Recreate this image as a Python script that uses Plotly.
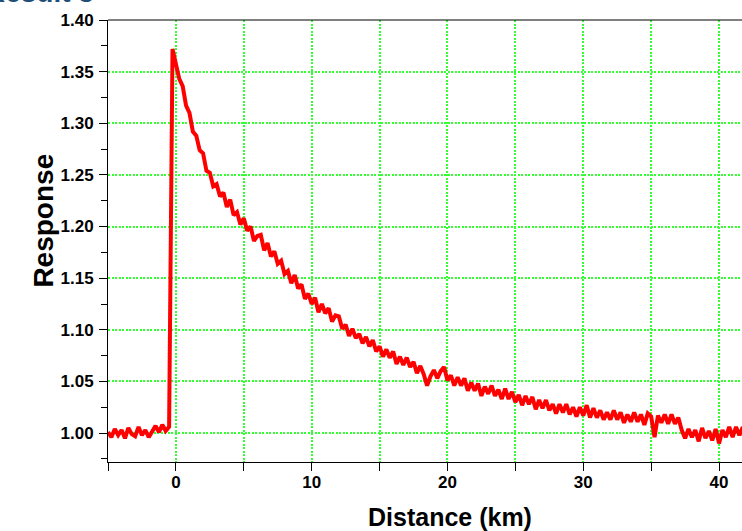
import plotly.graph_objects as go

# Sampling of the trace (km)
distance_start_km = -5.0
distance_step_km = 0.25

# Response values, one row per km (x = k, k+.25, k+.5, k+.75)
response_rows = [
    [1.001, 0.996, 1.004, 0.998],  # -5
    [1.003, 0.995, 1.005, 0.999],  # -4
    [0.997, 1.006, 0.998, 1.003],  # -3
    [0.996, 1.002, 1.007, 1.001],  # -2
    [1.008, 1.002, 1.006, 1.372],  # -1
    [1.359, 1.343, 1.336, 1.317],  # 0
    [1.310, 1.292, 1.288, 1.274],  # 1
    [1.271, 1.254, 1.252, 1.239],  # 2
    [1.241, 1.229, 1.233, 1.219],  # 3
    [1.226, 1.211, 1.214, 1.202],  # 4
    [1.208, 1.196, 1.200, 1.186],  # 5
    [1.191, 1.192, 1.177, 1.184],  # 6
    [1.171, 1.176, 1.164, 1.167],  # 7
    [1.154, 1.157, 1.145, 1.153],  # 8
    [1.140, 1.144, 1.130, 1.135],  # 9
    [1.125, 1.131, 1.117, 1.125],  # 10
    [1.116, 1.121, 1.108, 1.114],  # 11
    [1.113, 1.101, 1.105, 1.094],  # 12
    [1.101, 1.092, 1.096, 1.087],  # 13
    [1.093, 1.084, 1.090, 1.079],  # 14
    [1.084, 1.074, 1.081, 1.073],  # 15
    [1.079, 1.067, 1.074, 1.066],  # 16
    [1.073, 1.064, 1.069, 1.058],  # 17
    [1.065, 1.057, 1.046, 1.055],  # 18
    [1.061, 1.053, 1.060, 1.064],  # 19
    [1.051, 1.056, 1.046, 1.054],  # 20
    [1.046, 1.053, 1.041, 1.049],  # 21
    [1.041, 1.048, 1.036, 1.045],  # 22
    [1.038, 1.046, 1.036, 1.042],  # 23
    [1.033, 1.043, 1.033, 1.040],  # 24
    [1.030, 1.037, 1.027, 1.036],  # 25
    [1.028, 1.035, 1.023, 1.032],  # 26
    [1.024, 1.032, 1.022, 1.028],  # 27
    [1.019, 1.028, 1.020, 1.028],  # 28
    [1.018, 1.025, 1.016, 1.025],  # 29
    [1.017, 1.027, 1.015, 1.024],  # 30
    [1.015, 1.022, 1.013, 1.020],  # 31
    [1.013, 1.022, 1.013, 1.020],  # 32
    [1.010, 1.018, 1.011, 1.020],  # 33
    [1.011, 1.018, 1.008, 1.019],  # 34
    [1.016, 0.996, 1.017, 1.010],  # 35
    [1.018, 1.009, 1.018, 1.009],  # 36
    [1.015, 1.003, 0.995, 1.004],  # 37
    [0.996, 1.003, 0.992, 1.005],  # 38
    [0.995, 1.002, 0.993, 1.004],  # 39
    [0.990, 1.003, 0.996, 1.006],  # 40
    [0.996, 1.006, 0.998, 1.006],  # 41
]
response = [v for row in response_rows for v in row]

x_range = [-5.0, 41.69]
y_range = [0.972, 1.40]
x_tick_step = 10
x_minor_step = 5
y_tick_step = 0.05
y_minor_step = 0.025

title_text = "Result 3"
x_title = "Distance (km)"
y_title = "Response"

grid_color = "#33ff33"
grid_dash = "2px,1.5px"
grid_width = 1.5
font_family = "Liberation Sans, Arial, sans-serif"

fig = go.Figure()
fig.add_trace(go.Scatter(
    x0=distance_start_km, dx=distance_step_km, y=response,
    mode="lines", line=dict(color="#ff0000", width=4),
    showlegend=False, hoverinfo="skip",
))

axis_common = dict(
    showline=True, linecolor="black", linewidth=1,
    ticks="outside", ticklen=8, tickwidth=1, tickcolor="black",
    showgrid=True, gridcolor=grid_color, griddash=grid_dash, gridwidth=grid_width,
    zeroline=False,
    tickfont=dict(family=font_family, size=17, color="black", weight="bold"),
)

fig.update_xaxes(
    range=x_range, tick0=0, dtick=x_tick_step, ticklabelstandoff=-3,
    minor=dict(tick0=0, dtick=x_minor_step, ticks="outside", ticklen=8,
               tickcolor="black", showgrid=True, gridcolor=grid_color,
               griddash=grid_dash, gridwidth=grid_width),
    **axis_common,
)
fig.update_yaxes(
    range=y_range, tick0=1.0, dtick=y_tick_step, tickformat=".2f",
    ticklabelstandoff=2,
    minor=dict(tick0=1.0, dtick=y_minor_step, ticks="outside", ticklen=6,
               tickcolor="black", showgrid=False),
    **axis_common,
)

# top frame line (right side of the frame is outside the window)
fig.add_shape(type="line", xref="paper", yref="paper", x0=0, x1=1, y0=1, y1=1,
              line=dict(color="black", width=1), layer="above")

# axis titles
fig.add_annotation(text=x_title, xref="paper", yref="paper", x=0.539, y=0,
                   xanchor="center", yanchor="top", yshift=-39, showarrow=False,
                   font=dict(family=font_family, size=25, color="black", weight="bold"))
fig.add_annotation(text=y_title, xref="paper", yref="paper", x=0, y=0.545,
                   xanchor="right", yanchor="middle", xshift=-47, textangle=-90,
                   showarrow=False,
                   font=dict(family=font_family, size=28, color="black", weight="bold"))

# partly visible title at the top-left corner
fig.add_annotation(text=title_text, xref="paper", yref="paper", x=0, y=1,
                   xanchor="right", yanchor="bottom", xshift=-12, yshift=10,
                   showarrow=False,
                   font=dict(family=font_family, size=28, color="#1F4E79", weight="bold"))

fig.update_layout(
    width=742, height=531,
    margin=dict(l=108, r=0, t=20, b=69, autoexpand=False),
    paper_bgcolor="white", plot_bgcolor="white",
    font=dict(family=font_family, color="black"),
)

fig.write_html("out.html")
